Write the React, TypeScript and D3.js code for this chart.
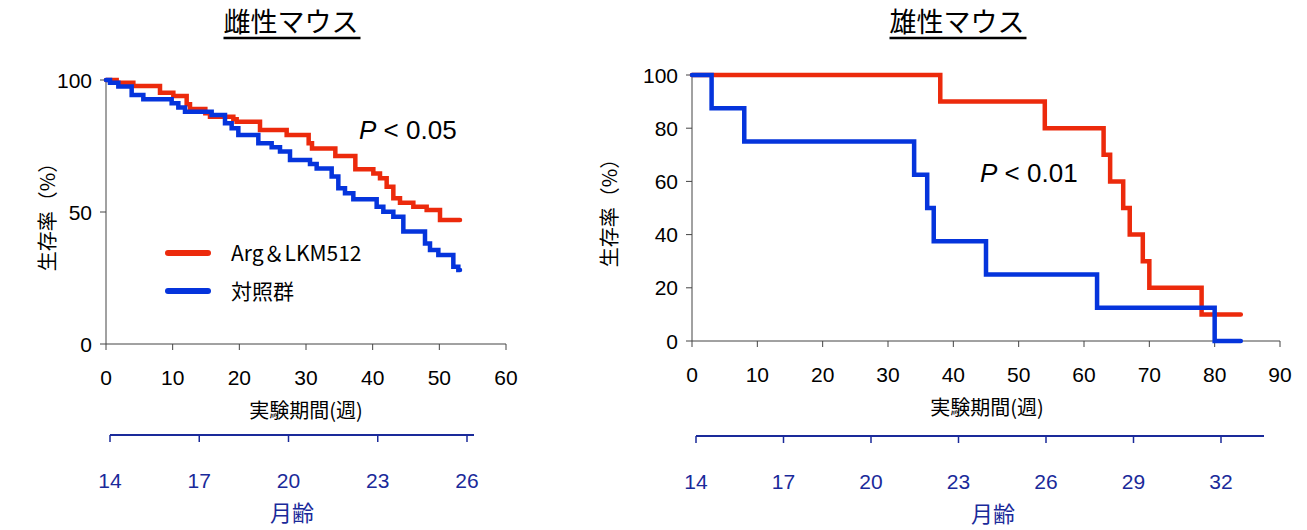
import React from "react";
import * as d3 from "d3";

// Female (雌性) Kaplan-Meier steps
const femaleTreatedWeeks = [0, 1.6, 4.1, 8.1, 10.1, 12.1, 12.6, 14.9, 15.6, 19.1, 19.6, 23.1, 27.1, 30.4, 30.9, 34.4, 37.4, 40.1, 41.1, 42.1, 43.1, 44.1, 46.1, 48.1, 50.1, 53.1];
const femaleTreatedSurv = [100, 99, 97.7, 95.2, 93.9, 90.8, 89.0, 87.4, 86.1, 85.1, 84.2, 81.1, 79.2, 76, 74.1, 71.2, 66.2, 64.6, 62.8, 59.6, 55.2, 53.5, 52.0, 50.8, 47.0, 47.0];
const femaleControlWeeks = [0, 0.6, 1.85, 3.85, 5.6, 9.85, 10.85, 11.85, 15.85, 17.85, 18.85, 19.85, 22.85, 24.85, 26.1, 27.6, 30.6, 31.6, 33.85, 34.85, 35.85, 37.1, 40.6, 41.6, 43.1, 44.6, 47.85, 48.6, 49.85, 52.1, 52.85, 53.1];
const femaleControlSurv = [100, 99, 97.5, 94.3, 92.7, 91.2, 89.6, 88.0, 86.7, 83.6, 81.7, 79.2, 76.0, 74.5, 72.9, 69.7, 68.2, 66.5, 63.4, 59.0, 57.1, 54.8, 52.0, 50.1, 48.2, 42.6, 38.1, 35.6, 33.7, 29.3, 28.0, 28.0];

// Male (雄性)
const maleTreatedWeeks = [0, 38, 54, 63, 64, 66, 67, 69, 70, 78, 84];
const maleTreatedSurv = [100, 90, 80, 70, 60, 50, 40, 30, 20, 10, 10];
const maleControlWeeks = [0, 3, 8, 34, 36, 37, 45, 62, 80, 84];
const maleControlSurv = [100, 87.5, 75, 62.5, 50, 37.5, 25, 12.5, 0, 0];

const femaleXTicks = [0, 10, 20, 30, 40, 50, 60];
const femaleYTicks = [0, 50, 100];
const maleXTicks = [0, 10, 20, 30, 40, 50, 60, 70, 80, 90];
const maleYTicks = [0, 20, 40, 60, 80, 100];
const femaleMonthTicks = [14, 17, 20, 23, 26];
const maleMonthTicks = [14, 17, 20, 23, 26, 29, 32];

const seriesLabels = ["Arg＆LKM512", "対照群"];

const RED = "#ec2a0c";
const BLUE = "#0534dc";
const NAVY = "#1a2a9a";
const AXIS = "#444";
const JP = "'Noto Sans CJK JP', 'Noto Sans', sans-serif";
const NUM = "'Liberation Sans', Arial, sans-serif";

type PanelProps = {
  title: string; titleX: number;
  x0: number; x1: number; xMax: number;
  yTop: number; yBot: number;
  xTicks: number[]; yTicks: number[];
  series: { w: number[]; s: number[]; color: string }[];
  pText: string; pX: number; pY: number;
  monthTicks: number[]; mx0: number; mx1: number; mLineEnd: number; mY: number; mLabelX: number;
  legend?: boolean;
  yLabelX: number; xLabelX: number;
};

function Panel(p: PanelProps) {
  const x = d3.scaleLinear().domain([0, p.xMax]).range([p.x0, p.x1]);
  const y = d3.scaleLinear().domain([0, 100]).range([p.yBot, p.yTop]);
  const line = d3.line<[number, number]>().x(d => x(d[0])).y(d => y(d[1])).curve(d3.curveStepAfter);
  const m = d3.scaleLinear().domain([p.monthTicks[0], p.monthTicks[p.monthTicks.length - 1]]).range([p.mx0, p.mx1]);
  const tw = p.title.length * 27;
  return (
    <g>
      <text x={p.titleX} y={32} textAnchor="middle" fontFamily={JP} fontSize={27} fill="#000">{p.title}</text>
      <line x1={p.titleX - tw / 2} x2={p.titleX + tw / 2 + 2} y1={38} y2={38} stroke="#000" strokeWidth={2.5} />
      {/* axes */}
      <line x1={p.x0} x2={p.x0} y1={p.yTop} y2={p.yBot} stroke={AXIS} strokeWidth={1} />
      <line x1={p.x0} x2={p.x1} y1={p.yBot} y2={p.yBot} stroke={AXIS} strokeWidth={1} />
      {p.yTicks.map(t => (
        <g key={"y" + t}>
          <line x1={p.x0 - 6} x2={p.x0} y1={y(t)} y2={y(t)} stroke={AXIS} />
          <text x={p.x0 - 14} y={y(t)} dy="0.36em" textAnchor="end" fontFamily={NUM} fontSize={21} fill="#000">{t}</text>
        </g>
      ))}
      {p.xTicks.map(t => (
        <g key={"x" + t}>
          <line x1={x(t)} x2={x(t)} y1={p.yBot} y2={p.yBot + 6} stroke={AXIS} />
          <text x={x(t)} y={p.yBot + 41} textAnchor="middle" fontFamily={NUM} fontSize={21} fill="#000">{t}</text>
        </g>
      ))}
      <text x={p.xLabelX} y={p.yBot + 74} textAnchor="middle" fontFamily={JP} fontSize={20} fill="#000">実験期間(週)</text>
      <text transform={`translate(${p.yLabelX},${(p.yTop + p.yBot) / 2}) rotate(-90)`} textAnchor="middle" dy="0.35em" fontFamily={JP} fontSize={20} fill="#000">生存率（%）</text>
      {/* curves */}
      {p.series.map((s, i) => (
        <path key={i} d={line(s.w.map((w, j) => [w, s.s[j]] as [number, number])) || ""} fill="none" stroke={s.color} strokeWidth={4.5} strokeLinecap="round" strokeLinejoin="miter" />
      ))}
      <text x={p.pX} y={p.pY} fontFamily={NUM} fontSize={26} fill="#000">
        <tspan fontStyle="italic">P</tspan> &lt; {p.pText}
      </text>
      {p.legend && (
        <g>
          <line x1={168} x2={208} y1={253} y2={253} stroke={RED} strokeWidth={6} strokeLinecap="round" />
          <text x={231} y={253} dy="0.36em" fontFamily={JP} fontSize={21} fill="#000">{seriesLabels[0]}</text>
          <line x1={168} x2={208} y1={291} y2={291} stroke={BLUE} strokeWidth={6} strokeLinecap="round" />
          <text x={231} y={291} dy="0.36em" fontFamily={JP} fontSize={21} fill="#000">{seriesLabels[1]}</text>
        </g>
      )}
      {/* month axis */}
      <line x1={p.mx0} x2={p.mLineEnd} y1={p.mY} y2={p.mY} stroke={NAVY} strokeWidth={2} />
      {p.monthTicks.map(t => (
        <g key={"m" + t}>
          <line x1={m(t)} x2={m(t)} y1={p.mY} y2={p.mY + 7} stroke={NAVY} strokeWidth={1.5} />
          <text x={m(t)} y={p.mY + 53} textAnchor="middle" fontFamily={NUM} fontSize={21} fill={NAVY}>{t}</text>
        </g>
      ))}
      <text x={p.mLabelX} y={p.mY + 86} textAnchor="middle" fontFamily={JP} fontSize={22} fill={NAVY}>月齢</text>
    </g>
  );
}

export default function App() {
  return (
    <svg width={1307} height={530} style={{ position: "absolute", left: 0, top: 0, background: "#fff" }}>
      <rect width={1307} height={530} fill="#fff" />
      <Panel
        title="雌性マウス" titleX={291}
        x0={106} x1={506} xMax={60}
        yTop={80} yBot={344}
        xTicks={femaleXTicks} yTicks={femaleYTicks}
        series={[
          { w: femaleTreatedWeeks, s: femaleTreatedSurv, color: RED },
          { w: femaleControlWeeks, s: femaleControlSurv, color: BLUE },
        ]}
        pText="0.05" pX={359} pY={139}
        monthTicks={femaleMonthTicks} mx0={110} mx1={467} mLineEnd={474} mY={435} mLabelX={292}
        legend
        yLabelX={48} xLabelX={306}
      />
      <Panel
        title="雄性マウス" titleX={957}
        x0={692} x1={1280} xMax={90}
        yTop={75} yBot={341}
        xTicks={maleXTicks} yTicks={maleYTicks}
        series={[
          { w: maleTreatedWeeks, s: maleTreatedSurv, color: RED },
          { w: maleControlWeeks, s: maleControlSurv, color: BLUE },
        ]}
        pText="0.01" pX={980} pY={182}
        monthTicks={maleMonthTicks} mx0={696} mx1={1221} mLineEnd={1264} mY={436} mLabelX={993}
        yLabelX={610} xLabelX={987}
      />
    </svg>
  );
}
